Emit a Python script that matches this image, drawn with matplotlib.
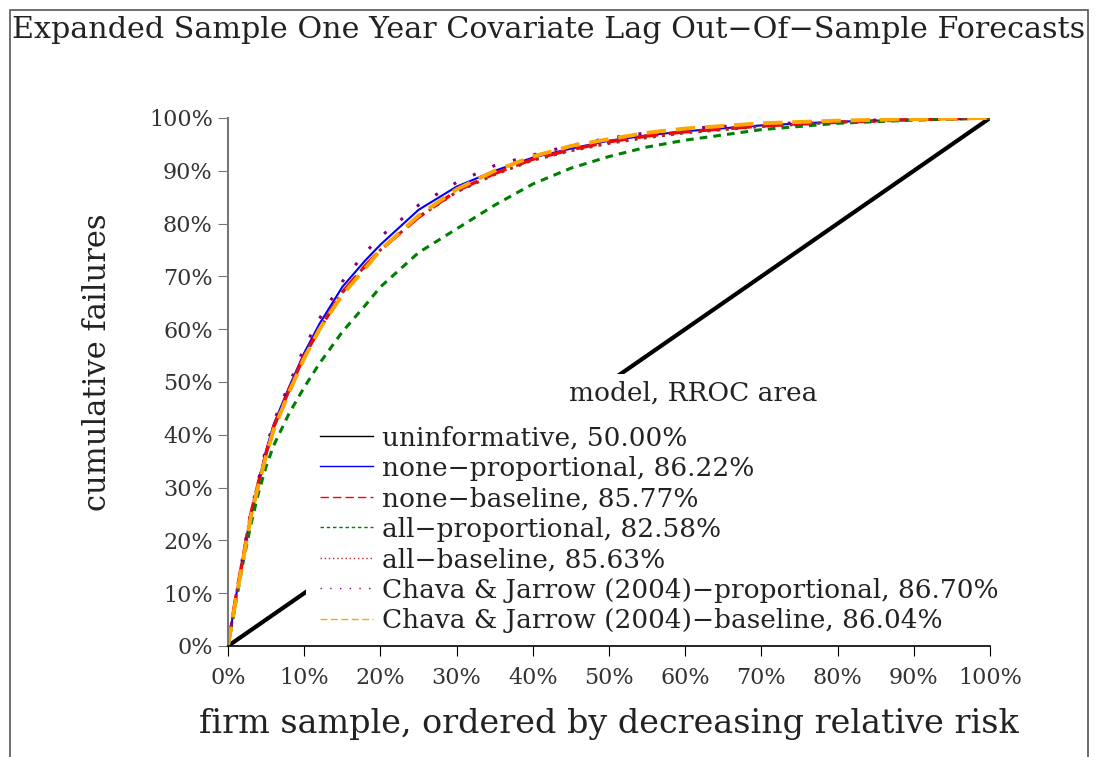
import numpy as np
import matplotlib
matplotlib.use("Agg")
import matplotlib.pyplot as plt
from matplotlib.patches import Rectangle

plt.rcParams['font.family'] = ['DejaVu Serif']

# fraction of the firm sample (x) and cumulative failures captured (y)
x_grid = [0.0, 0.01, 0.02, 0.03, 0.04, 0.05, 0.06, 0.08, 0.10, 0.12, 0.15, 0.18, 0.20,
          0.25, 0.30, 0.35, 0.40, 0.45, 0.50, 0.55, 0.60, 0.70, 0.80, 0.90, 1.0]

none_prop = [0, 0.09, 0.17, 0.25, 0.31, 0.37, 0.42, 0.49, 0.555, 0.61, 0.68, 0.73, 0.76,
             0.826, 0.87, 0.90, 0.925, 0.942, 0.957, 0.967, 0.975, 0.986, 0.993, 0.997, 1.0]
none_base = [0, 0.09, 0.17, 0.25, 0.31, 0.365, 0.415, 0.485, 0.55, 0.60, 0.67, 0.72, 0.75,
             0.812, 0.862, 0.895, 0.922, 0.94, 0.955, 0.966, 0.974, 0.985, 0.992, 0.997, 1.0]
all_prop = [0, 0.08, 0.16, 0.23, 0.29, 0.34, 0.38, 0.44, 0.49, 0.535, 0.595, 0.645, 0.68,
            0.745, 0.79, 0.835, 0.875, 0.905, 0.927, 0.945, 0.958, 0.978, 0.99, 0.996, 1.0]
all_base = [0, 0.09, 0.17, 0.25, 0.31, 0.365, 0.415, 0.485, 0.55, 0.60, 0.67, 0.72, 0.75,
            0.812, 0.86, 0.893, 0.92, 0.938, 0.952, 0.963, 0.972, 0.984, 0.992, 0.997, 1.0]
cj_prop = [0, 0.09, 0.175, 0.255, 0.315, 0.375, 0.425, 0.495, 0.565, 0.62, 0.69, 0.745, 0.775,
           0.835, 0.878, 0.91, 0.93, 0.948, 0.962, 0.972, 0.98, 0.988, 0.994, 0.998, 1.0]
cj_base = [0, 0.085, 0.165, 0.245, 0.305, 0.36, 0.41, 0.48, 0.545, 0.60, 0.665, 0.715, 0.75,
           0.815, 0.865, 0.90, 0.927, 0.947, 0.96, 0.972, 0.98, 0.99, 0.995, 0.998, 1.0]

labels = ["uninformative, 50.00%",
          "none\u2212proportional, 86.22%",
          "none\u2212baseline, 85.77%",
          "all\u2212proportional, 82.58%",
          "all\u2212baseline, 85.63%",
          "Chava & Jarrow (2004)\u2212proportional, 86.70%",
          "Chava & Jarrow (2004)\u2212baseline, 86.04%"]

ticks = [0, 0.1, 0.2, 0.3, 0.4, 0.5, 0.6, 0.7, 0.8, 0.9, 1.0]
tick_labels = ["0%", "10%", "20%", "30%", "40%", "50%", "60%", "70%", "80%", "90%", "100%"]

fig = plt.figure(figsize=(10.97, 7.57), dpi=100)
fig.patches.append(Rectangle((10/1097, -0.05), 1078/1097, 1.05 - 10/757,
                             transform=fig.transFigure, fill=False,
                             edgecolor='#555555', linewidth=1.2))
ax = fig.add_axes([228/1097, 1 - 646/757, 762/1097, 528/757])

ax.plot([0, 1], [0, 1], color='black', lw=3, label=labels[0], zorder=2)
ax.plot(x_grid, none_prop, color='blue', lw=1.5, label=labels[1], zorder=3)
ax.plot(x_grid, none_base, color='red', lw=2.5, ls=(0, (6, 3)), label=labels[2], zorder=3)
ax.plot(x_grid, all_prop, color='green', lw=2.2, ls=(0, (2.5, 2)), label=labels[3], zorder=3)
ax.plot(x_grid, all_base, color='brown', lw=2.2, ls=(0, (1, 2)), label=labels[4], zorder=3)
ax.plot(x_grid, cj_prop, color='purple', lw=2.2, ls=(0, (1, 6)), label=labels[5], zorder=3)
ax.plot(x_grid, cj_base, color='orange', lw=2.8, ls=(0, (5, 2.5)), label=labels[6], zorder=3)

ax.set_xlim(0, 1)
ax.set_ylim(0, 1)
ax.set_xticks(ticks)
ax.set_xticklabels(tick_labels)
ax.set_yticks(ticks)
ax.set_yticklabels(tick_labels)
ax.tick_params(axis='both', direction='out', length=7, labelsize=16, pad=4)
ax.tick_params(axis='x', pad=8)
ax.tick_params(axis='y', color='#777777')
ax.spines['top'].set_visible(False)
ax.spines['right'].set_visible(False)
ax.spines['left'].set_color('#777777')
ax.spines['left'].set_linewidth(1.5)
ax.spines['bottom'].set_linewidth(1.2)
for sp in ax.spines.values():
    sp.set_zorder(6)
ax.xaxis.set_zorder(6)
for t in ax.get_xticklabels() + ax.get_yticklabels():
    t.set_color('#333333')

ax.set_xlabel("firm sample, ordered by decreasing relative risk", fontsize=24, color='#222222')
ax.set_ylabel("cumulative failures", fontsize=22, color='#222222')
ax.xaxis.set_label_coords(0.5, -0.118)
ax.yaxis.set_label_coords(-0.151, 0.538)

fig.text(0.5, 1 - 30/757, "Expanded Sample One Year Covariate Lag Out\u2212Of\u2212Sample Forecasts",
         ha='center', va='center', fontsize=21.7, color='#222222')

ax.text(0.61, 0.479, "model, RROC area", ha='center', va='center', fontsize=19,
        color='#222222', zorder=5,
        bbox=dict(facecolor='white', edgecolor='none', pad=5))

leg = ax.legend(loc='upper left', bbox_to_anchor=(0.102, 0.446), fontsize=19,
                frameon=True, facecolor='white', edgecolor='none', framealpha=1,
                handlelength=2.0, handletextpad=0.35, labelspacing=0.21,
                borderpad=0.55, borderaxespad=0, fancybox=False)
leg.set_zorder(4)
for h in leg.get_lines():
    h.set_linewidth(1)
for t in leg.get_texts():
    t.set_color('#222222')

fig.savefig("out.png", dpi=100)
